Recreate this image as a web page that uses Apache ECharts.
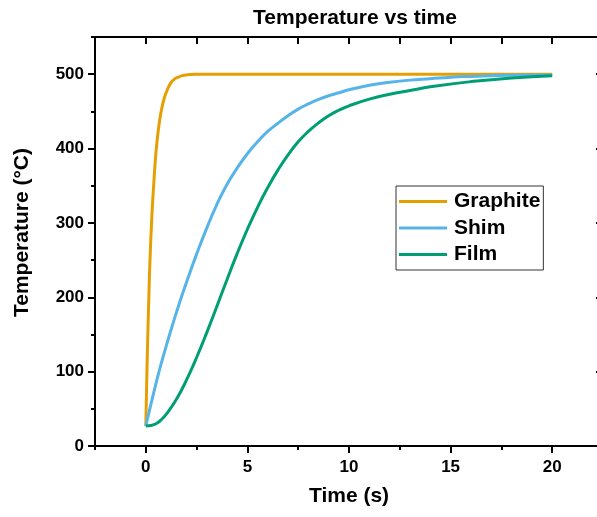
<!DOCTYPE html>
<html>
<head>
<meta charset="utf-8">
<script src="https://cdn.jsdelivr.net/npm/echarts@6/dist/echarts.min.js"></script>
<style>
html,body{margin:0;padding:0;background:#fff;}
#chart{width:597px;height:517px;}
</style>
</head>
<body>
<div id="chart"></div>
<script>
// ---- data ----
var seriesNames = ['Graphite', 'Shim', 'Film'];

var graphiteTime = [0, 0.05, 0.1, 0.15, 0.2, 0.3, 0.4, 0.5, 0.6, 0.7, 0.8, 0.9, 1.0, 1.2, 1.4, 1.6, 1.8, 2.0, 2.5, 3, 5, 10, 15, 20];
var graphiteTemp = [27, 93, 150, 200, 245, 310, 356, 395, 421, 441, 456, 467, 475, 487, 493, 496, 498, 499, 500, 500, 500, 500, 500, 500];

var shimTime = [0, 0.25, 0.5, 0.75, 1, 1.25, 1.5, 1.75, 2, 2.5, 3, 3.5, 4, 4.5, 5, 5.5, 6, 6.5, 7, 7.5, 8, 8.5, 9, 9.5, 10, 11, 12, 13, 14, 15, 16, 18, 20];
var shimTemp = [27, 56, 84, 110, 134, 157, 179, 200, 220, 258, 293, 325, 352, 374, 393, 409, 423, 434, 444, 453, 460, 466, 471, 475, 479, 485, 489, 492, 494, 496, 497, 498.5, 499];

var filmTime = [0, 0.25, 0.5, 0.75, 1, 1.5, 2, 2.5, 3, 3.5, 4, 4.5, 5, 5.5, 6, 6.5, 7, 7.5, 8, 8.5, 9, 9.5, 10, 11, 12, 13, 14, 16, 18, 20];
var filmTemp = [27, 27.5, 30, 35, 42.5, 62.5, 88.5, 119, 152.5, 188, 224, 259, 291.5, 321, 347.5, 371, 391.5, 409, 423, 434.5, 444, 451.5, 457.5, 466.5, 473, 478, 483, 490, 495, 498];

var xMajorTicks = [0, 5, 10, 15, 20];
var xMinorTicks = [-2.5, 2.5, 7.5, 12.5, 17.5];
var xTopTicks = [0, 2.5, 5, 7.5, 10, 12.5, 15, 17.5, 20];
var yMajorTicks = [0, 100, 200, 300, 400, 500];
var yMinorTicks = [50, 150, 250, 350, 450, 550];

var colors = ['#E69F00', '#56B4E9', '#009E73'];

function pairs(xs, ys) { return xs.map(function (x, i) { return [x, ys[i]]; }); }

var FONT = '"Liberation Sans", Arial, sans-serif';
var X_MIN = -2.5, X_MAX = 22.5, Y_MIN = 0, Y_MAX = 550;

var lineStyleAxis = { color: '#000', width: 2 };

function xAxisBase(extra) {
  var a = {
    type: 'value', min: X_MIN, max: X_MAX, gridIndex: 0,
    splitLine: { show: false },
    axisLine: { show: false, onZero: false, lineStyle: lineStyleAxis },
    axisTick: { show: false },
    axisLabel: { show: false }
  };
  for (var k in extra) a[k] = extra[k];
  return a;
}
function yAxisBase(extra) {
  var a = {
    type: 'value', min: Y_MIN, max: Y_MAX, gridIndex: 0,
    splitLine: { show: false },
    axisLine: { show: false, onZero: false, lineStyle: lineStyleAxis },
    axisTick: { show: false },
    axisLabel: { show: false }
  };
  for (var k in extra) a[k] = extra[k];
  return a;
}

var chart = echarts.init(document.getElementById('chart'), null, { renderer: 'canvas' });

var option = {
  animation: false,
  backgroundColor: '#fff',
  title: {
    text: 'Temperature vs time',
    left: 350, top: 3, textAlign: 'center',
    textStyle: { fontFamily: FONT, fontWeight: 'bold', fontSize: 21, color: '#000' }
  },
  grid: { left: 95, width: 508, top: 37, height: 409, containLabel: false, outerBoundsMode: 'none' },
  legend: {
    data: seriesNames,
    orient: 'vertical',
    left: 396, top: 186,
    padding: [5, 3, 5, 3],
    itemGap: 5.5,
    itemWidth: 48, itemHeight: 3,
    icon: 'rect',
    borderColor: '#333', borderWidth: 1,
    textStyle: { fontFamily: FONT, fontWeight: 'bold', fontSize: 21, color: '#000', lineHeight: 21, padding: [0, 0, 0, 2] }
  },
  xAxis: [
    xAxisBase({
      position: 'bottom',
      name: 'Time (s)', nameLocation: 'middle', nameGap: 40,
      nameTextStyle: { fontFamily: FONT, fontWeight: 'bold', fontSize: 21, color: '#000' },
      axisLine: { show: true, onZero: false, lineStyle: lineStyleAxis },
      axisTick: { show: true, inside: false, length: 7, customValues: xMajorTicks, lineStyle: { color: '#000', width: 2 } },
      axisLabel: { show: true, customValues: xMajorTicks, margin: 13, fontFamily: FONT, fontWeight: 'bold', fontSize: 17, color: '#000' }
    }),
    xAxisBase({
      position: 'bottom',
      axisTick: { show: true, inside: false, length: 4, customValues: xMinorTicks, lineStyle: { color: '#000', width: 2 } }
    }),
    xAxisBase({
      position: 'top',
      axisLine: { show: true, onZero: false, lineStyle: lineStyleAxis },
      axisTick: { show: true, inside: true, length: 7, customValues: xTopTicks, lineStyle: { color: '#000', width: 2 } }
    })
  ],
  yAxis: [
    yAxisBase({
      position: 'left',
      name: 'Temperature (\u00B0C)', nameLocation: 'middle', nameGap: 62, nameRotate: 90,
      nameTextStyle: { fontFamily: FONT, fontWeight: 'bold', fontSize: 21, color: '#000', padding: [0, 0, 0, 18] },
      axisLine: { show: true, onZero: false, lineStyle: lineStyleAxis },
      axisTick: { show: true, inside: false, length: 7, customValues: yMajorTicks, lineStyle: { color: '#000', width: 2 } },
      axisLabel: { show: true, customValues: yMajorTicks, margin: 11, fontFamily: FONT, fontWeight: 'bold', fontSize: 17, color: '#000' }
    }),
    yAxisBase({
      position: 'left',
      axisTick: { show: true, inside: false, length: 4, customValues: yMinorTicks, lineStyle: { color: '#000', width: 2 } }
    }),
    yAxisBase({
      position: 'right',
      axisLine: { show: true, onZero: false, lineStyle: lineStyleAxis },
      axisTick: { show: true, inside: true, length: 7, customValues: yMajorTicks, lineStyle: { color: '#000', width: 2 } }
    })
  ],
  series: [
    { name: seriesNames[0], type: 'line', xAxisIndex: 0, yAxisIndex: 0, data: pairs(graphiteTime, graphiteTemp),
      showSymbol: false, smooth: 0.5, color: colors[0], lineStyle: { width: 3, color: colors[0] } },
    { name: seriesNames[1], type: 'line', xAxisIndex: 0, yAxisIndex: 0, data: pairs(shimTime, shimTemp),
      showSymbol: false, smooth: 0.5, color: colors[1], lineStyle: { width: 3, color: colors[1] } },
    { name: seriesNames[2], type: 'line', xAxisIndex: 0, yAxisIndex: 0, data: pairs(filmTime, filmTemp),
      showSymbol: false, smooth: 0.5, color: colors[2], lineStyle: { width: 3, color: colors[2] } }
  ]
};
chart.setOption(option);
</script>
</body>
</html>
